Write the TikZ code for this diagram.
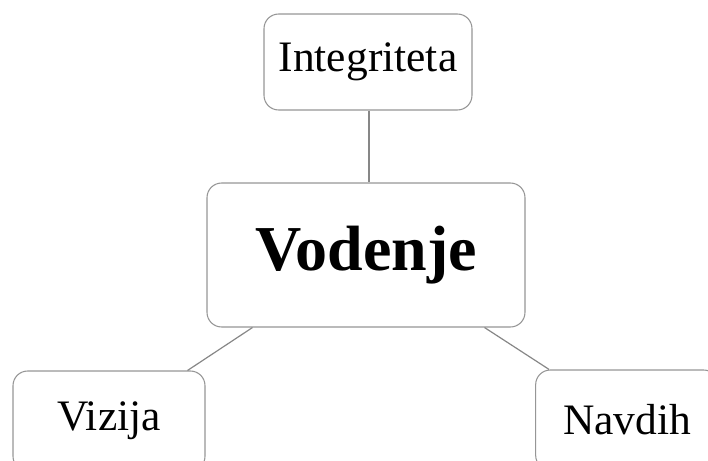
\documentclass[tikz,border=0pt]{standalone}
\usepackage{fontspec}
\setmainfont{Liberation Serif}
\usepackage{tikz}
\usetikzlibrary{positioning}
\definecolor{boxgray}{RGB}{150,150,150}
\definecolor{linegray}{RGB}{135,135,135}
\tikzstyle{link} = [line width=0.9pt, color=linegray]
\tikzstyle{topic} = [rectangle, rounded corners=11pt, draw=boxgray, line width=0.8pt, fill=white, text centered, inner sep=0pt, font=\fontsize{32.6}{38}\selectfont]
\tikzstyle{core} = [topic, font=\fontsize{48}{56}\selectfont\bfseries]

\begin{document}
\begin{tikzpicture}[x=0.75pt, y=-0.75pt]
\clip (0,0) rectangle (708,461);
\useasboundingbox (0,0) rectangle (708,461);
% centre box and the three values round it
\node (vod) [core, minimum width=238.5pt, minimum height=108pt] at (366,255) {Vodenje};
\node (integ) [topic, minimum width=156pt, minimum height=72pt] at (368,62) {Integriteta};
\node (viz) [topic, minimum width=144pt, minimum height=75pt] at (109,421) {Vizija};
\node (nav) [topic, minimum width=137pt, minimum height=75pt] at (627,420) {Navdih};

% connectors
\draw[link] ([shift={(1,0)}]integ.south) -- ([shift={(1,0)}]integ.south |- vod.north);
\draw[link] ([shift={(46,0)}]vod.south west) -- ([shift={(-18,0)}]viz.north east);
\draw[link] ([shift={(-41,0)}]vod.south east) -- ([shift={(14,0)}]nav.north west);
\end{tikzpicture}
\end{document}
